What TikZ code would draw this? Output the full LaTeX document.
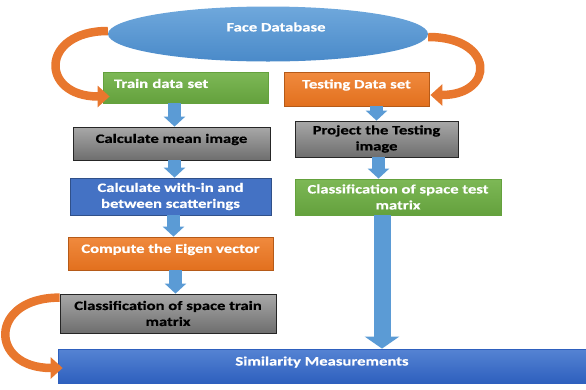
\documentclass[tikz,border=0pt]{standalone}
\usepackage{fontspec}
\setmainfont{Carlito}[FakeStretch=1.3, BoldFeatures={FakeBold=0.6}]
\usepackage{xcolor}
\usepackage{tikz}
\usetikzlibrary{shapes,arrows.meta,positioning}

\definecolor{dbtop}{HTML}{6FA8DC}
\definecolor{dbbot}{HTML}{4A8AC9}
\definecolor{grtop}{HTML}{7DB856}
\definecolor{grbot}{HTML}{64A13D}
\definecolor{ortop}{HTML}{F08A3E}
\definecolor{orbot}{HTML}{E2701E}
\definecolor{gytop}{HTML}{A8A8A8}
\definecolor{gybot}{HTML}{6E6E6E}
\definecolor{bxblue}{HTML}{4472C4}
\definecolor{smtop}{HTML}{5583D3}
\definecolor{smbot}{HTML}{2E60BE}
\definecolor{flowblue}{HTML}{5B9BD5}
\definecolor{curveor}{HTML}{E8772E}

% lift a label a little above the middle of its box
\newcommand{\lift}[1]{\raisebox{4pt}[\height][\depth]{#1}}

\begin{document}
\begin{tikzpicture}[x=1pt,y=-1pt,
  box/.style={rectangle, line width=0.8pt, align=center, inner sep=2pt,
    font=\bfseries\fontsize{12.8}{16}\selectfont},
  greenbox/.style={box, draw=grbot, top color=grtop, bottom color=grbot, text=white},
  orangebox/.style={box, draw=orbot!80!black, top color=ortop, bottom color=orbot, text=white},
  graybox/.style={box, draw=black!85, top color=gytop, bottom color=gybot, text=black},
  bluebox/.style={box, draw=bxblue!70!black, fill=bxblue, text=white},
  flow/.style={flowblue, line width=13pt, -{Triangle[width=21pt,length=10pt]}},
  curve/.style={curveor, line width=8.5pt, -{Triangle[width=21pt,length=12pt]}}]
\useasboundingbox (0,0) rectangle (586,389);
% database on top
\node[ellipse, top color=dbtop, bottom color=dbbot, minimum width=320pt,
  minimum height=55pt] (db) at (268,34) {};
\node[box, text=white] (dbname) at (276,27) {Face Database};
% training branch
\node[greenbox, text width=143pt, align=left, inner xsep=11pt, minimum height=31pt]
  (train) at (185.5,87.5) {\lift{Train data set}};
\node[graybox, minimum width=197pt, minimum height=33pt] (mean) at (171.5,143.5)
  {\lift{Calculate mean image}};
\node[bluebox, minimum width=201pt, minimum height=37pt] (within) at (170.5,196.5)
  {Calculate with-in and\\between scatterings};
\node[orangebox, minimum width=205pt, minimum height=33pt] (eigen) at (170.5,253.5)
  {\lift{Compute the Eigen vector}};
\node[graybox, minimum width=216pt, minimum height=39pt] (trainclass) at (168,313.5)
  {Classification of space train\\matrix};
% testing branch
\node[orangebox, minimum width=145pt, minimum height=34pt] (test) at (356.5,89)
  {\lift{Testing Data set}};
\node[graybox, minimum width=163pt, minimum height=36pt] (project) at (376.5,139)
  {Project the Testing\\image};
\node[greenbox, minimum width=206pt, minimum height=36pt] (testclass) at (398,197)
  {Classification of space test\\matrix};
% result
\node[box, draw=smbot, top color=smtop, bottom color=smbot, text=white,
  minimum width=528pt, minimum height=34pt] (sim) at (322,366)
  {\lift{Similarity Measurements}};
% block arrows
\draw[flow] ([xshift=-11pt]train.south) -- ([xshift=-11pt]train.south |- mean.north);
\draw[flow] (project.north |- test.south) -- (project.north);
\draw[flow] ([xshift=3pt]mean.south) -- ([xshift=3pt]mean.south |- within.north);
\draw[flow] ([xshift=2pt]project.south) -- ([xshift=2pt]project.south |- testclass.north);
\draw[flow] ([xshift=3pt]within.south) -- ([xshift=3pt]within.south |- eigen.north);
\draw[flow] ([xshift=5pt]eigen.south) -- ([xshift=5pt]eigen.south |- trainclass.north);
\draw[flow, line width=17pt, -{Triangle[width=34pt,length=12pt]}]
  ([xshift=-16pt]testclass.south) -- ([xshift=-16pt]testclass.south |- sim.north);
% curved arrows
\draw[curve] ([yshift=3pt]db.west) .. controls +(-68,0) and +(-70,0)
  .. ([xshift=7pt,yshift=-9pt]train.west);
\draw[curve] ([yshift=-3pt]db.east) .. controls +(67,0) and +(65,0)
  .. ([xshift=1pt,yshift=-6pt]test.east);
\draw[curve] ([yshift=-4pt]trainclass.north west) .. controls +(-71,0) and +(-74,0)
  .. ([xshift=5pt,yshift=-2pt]sim.west);
\end{tikzpicture}
\end{document}
